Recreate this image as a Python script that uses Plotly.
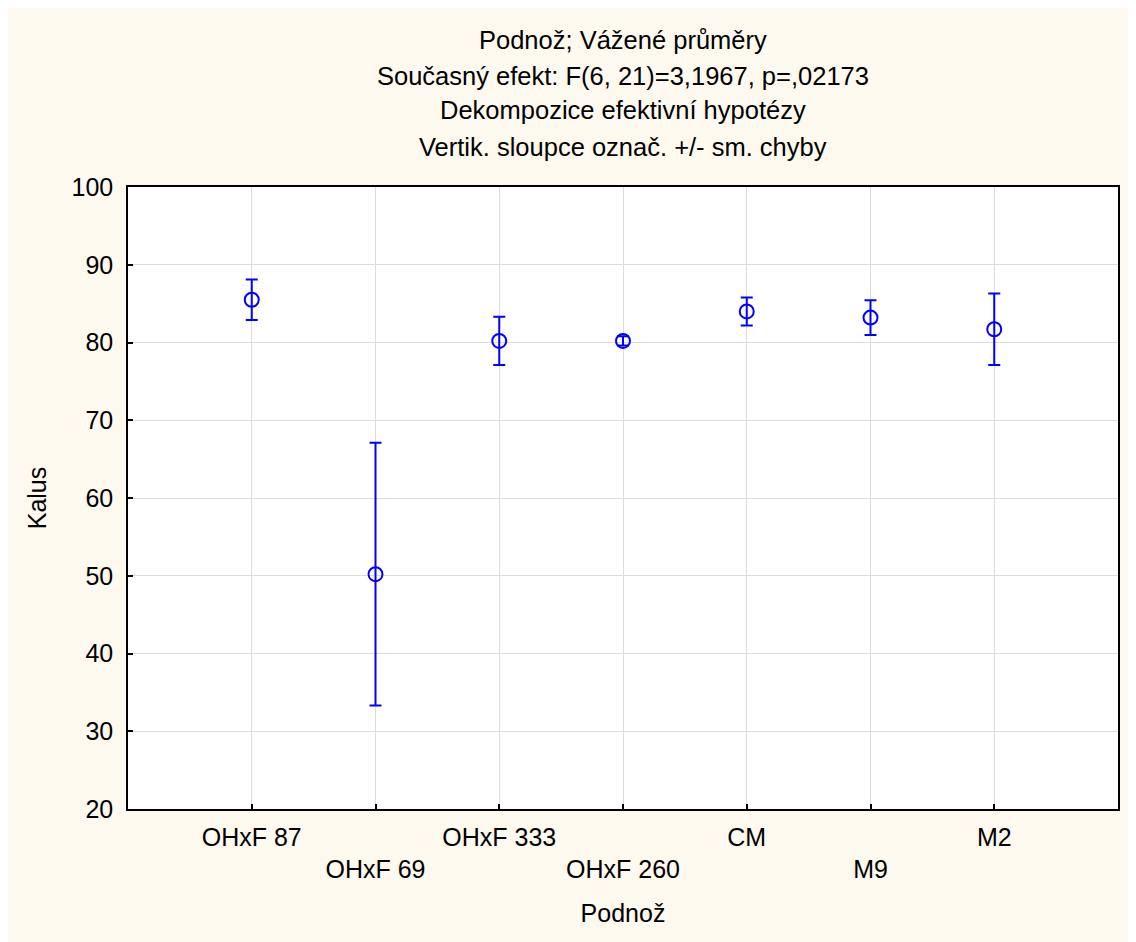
import plotly.graph_objects as go

categories = ["OHxF 87", "OHxF 69", "OHxF 333", "OHxF 260", "CM", "M9", "M2"]
means = [85.5, 50.2, 80.2, 80.2, 84.0, 83.2, 81.7]
se = [2.6, 16.9, 3.1, 0.6, 1.8, 2.25, 4.6]
y_ticks = [20, 30, 40, 50, 60, 70, 80, 90, 100]

title_lines = [
    "Podnož; Vážené průměry",
    "Současný efekt: F(6, 21)=3,1967, p=,02173",
    "Dekompozice efektivní hypotézy",
    "Vertik. sloupce označ. +/- sm. chyby",
]
title_line_y_px = [32, 68, 102, 139]  # centre of each title line, px from top of figure

W, H = 1136, 942
L, R, T, B = 120, 26, 179, 141
pw, ph = W - L - R, H - T - B

xpos = list(range(len(categories)))
ticktext = [c if i % 2 == 0 else "<br>" + c for i, c in enumerate(categories)]

FONT = "Liberation Sans, Arial, sans-serif"
blue = "#0000FF"

fig = go.Figure()
fig.add_trace(go.Scatter(
    x=xpos, y=means, mode="markers",
    marker=dict(symbol="circle-open", size=14, color=blue, line=dict(width=2, color=blue)),
    error_y=dict(type="data", array=se, visible=True, color=blue, thickness=2, width=6),
    showlegend=False,
))

annotations = []
for line, ypx in zip(title_lines, title_line_y_px):
    annotations.append(dict(
        text=line, xref="paper", yref="paper",
        x=0.5, y=(H - T - ypx) / ph + 0.0, xanchor="center", yanchor="middle",
        showarrow=False, font=dict(family=FONT, size=25.5, color="black"),
    ))
# convert: paper y measured from bottom of plot area
for a, ypx in zip(annotations, title_line_y_px):
    a["y"] = (T + ph - ypx) / ph

fig.update_layout(
    width=W, height=H,
    margin=dict(l=L, r=R, t=T, b=B),
    paper_bgcolor="#FEF9EF",
    plot_bgcolor="white",
    font=dict(family=FONT, size=25, color="black"),
    annotations=annotations,
)

fig.update_xaxes(
    range=[-1, 7],
    tickmode="array", tickvals=xpos, ticktext=ticktext,
    ticks="inside", ticklen=5, tickcolor="black", tickwidth=1.5,
    showline=True, linecolor="black", linewidth=1.5, mirror=True,
    showgrid=True, gridcolor="#DCDCDC", gridwidth=1,
    zeroline=False,
    tickfont=dict(size=25),
    ticklabelstandoff=5,
    title=dict(text="Podnož", font=dict(size=25), standoff=22),
)
fig.update_yaxes(
    range=[20, 100],
    tickmode="array", tickvals=y_ticks,
    ticks="inside", ticklen=5, tickcolor="black", tickwidth=1.5,
    showline=True, linecolor="black", linewidth=1.5, mirror=True,
    showgrid=True, gridcolor="#DCDCDC", gridwidth=1,
    zeroline=False,
    tickfont=dict(size=25),
    ticklabelstandoff=8,
    title=dict(text="Kalus", font=dict(size=25), standoff=18),
)

fig.write_html("out.html")
